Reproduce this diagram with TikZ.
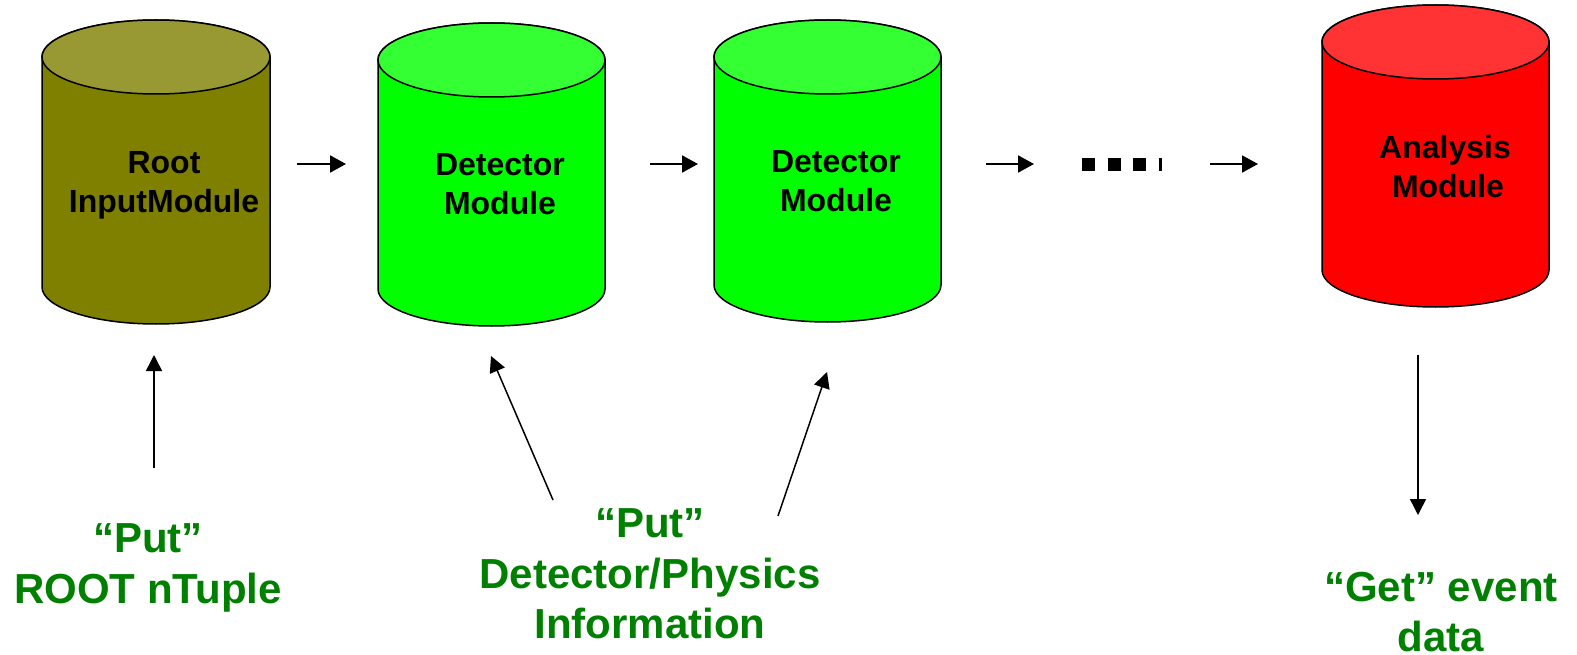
\documentclass[tikz,border=0pt]{standalone}
\usepackage{fontspec}
\setmainfont{Liberation Sans}
\usetikzlibrary{arrows.meta}
\definecolor{olivebody}{RGB}{128,128,0}
\definecolor{olivetop}{RGB}{153,153,51}
\definecolor{grnbody}{RGB}{0,255,0}
\definecolor{grntop}{RGB}{51,255,51}
\definecolor{redbody}{RGB}{255,0,0}
\definecolor{redtop}{RGB}{255,51,51}
\definecolor{labelgreen}{RGB}{0,128,0}
% #1 left x, #2 right x, #3 top centre y, #4 bottom centre y, #5 body colour, #6 top colour
\newcommand{\drawcyl}[6]{%
  \pgfmathsetmacro{\cylrx}{(#2-#1)/2}%
  \pgfmathsetmacro{\cylxc}{(#2+#1)/2}%
  \draw[cylline, fill=#5] (#1,#3) -- (#1,#4)
     arc[start angle=180, end angle=360, x radius=\cylrx pt, y radius=37pt]
     -- (#2,#3)
     arc[start angle=0, end angle=180, x radius=\cylrx pt, y radius=37pt] -- cycle;
  \draw[cylline, fill=#6] (\cylxc,#3) ellipse[x radius=\cylrx pt, y radius=37pt];
}
\tikzset{
  cylline/.style={draw=black, line width=1.5pt},
  modtext/.style={font=\fontsize{32}{39}\selectfont\bfseries, align=center, text=black, inner sep=0pt},
  infotext/.style={font=\fontsize{42}{50.5}\selectfont\bfseries, align=center, text=labelgreen, inner sep=0pt},
  flowarrow/.style={line width=2pt, -{Triangle[length=16pt,width=17pt]}},
  thinarrow/.style={line width=1.5pt, -{Triangle[length=16pt,width=16pt]}},
}
\begin{document}
\begin{tikzpicture}[x=1pt, y=-1pt]
\useasboundingbox (0,0) rectangle (1577,655);
\fill[white] (0,0) rectangle (1577,655);

% cylinders
\drawcyl{42}{270}{57}{287}{olivebody}{olivetop}
\drawcyl{378}{605}{60}{289}{grnbody}{grntop}
\drawcyl{714}{941}{57}{285}{grnbody}{grntop}
\drawcyl{1322}{1549}{42}{270}{redbody}{redtop}

% module labels
\node[modtext] (root) at (164,185) {Root\\InputModule};
\node[modtext] (det1) at (500,184) {Detector\\Module};
\node[modtext] (det2) at (836,181.5) {Detector\\Module};
\node[modtext] (ana) at (1445,167) {Analysis\\\hspace{6pt}Module};

% horizontal flow arrows
\coordinate (h1a) at (297,164); \coordinate (h1b) at (346,164);
\coordinate (h2a) at (650,164); \coordinate (h2b) at (698,164);
\coordinate (h3a) at (986,164); \coordinate (h3b) at (1034,164);
\coordinate (h4a) at (1210,164); \coordinate (h4b) at (1258,164);
\draw[flowarrow] (h1a) -- (h1b);
\draw[flowarrow] (h2a) -- (h2b);
\draw[flowarrow] (h3a) -- (h3b);
\draw[flowarrow] (h4a) -- (h4b);

% dots
\coordinate (dotsa) at (1082,164.5); \coordinate (dotsb) at (1162,164.5);
\draw[line width=13pt, dash pattern=on 13pt off 12.5pt] (dotsa) -- (dotsb);

% green info labels
\node[infotext] (putroot) at (148,568) {``Put''\\ROOT nTuple};
\node[infotext] (putdet) at (650,574) {``Put''\\Detector/Physics\\Information};
\node[infotext] (getdata) at (1441,612) {``Get'' event\\data};

% vertical / slanted arrows
\coordinate (v1a) at (154,468); \coordinate (v1b) at (154,355);
\coordinate (v2a) at (553,500); \coordinate (v2b) at (491,356);
\coordinate (v3a) at (778,516); \coordinate (v3b) at (827,372);
\coordinate (v4a) at (1418,355); \coordinate (v4b) at (1418,515);
\draw[thinarrow] (v1a) -- (v1b);
\draw[thinarrow] (v2a) -- (v2b);
\draw[thinarrow] (v3a) -- (v3b);
\draw[thinarrow] (v4a) -- (v4b);
\end{tikzpicture}
\end{document}
